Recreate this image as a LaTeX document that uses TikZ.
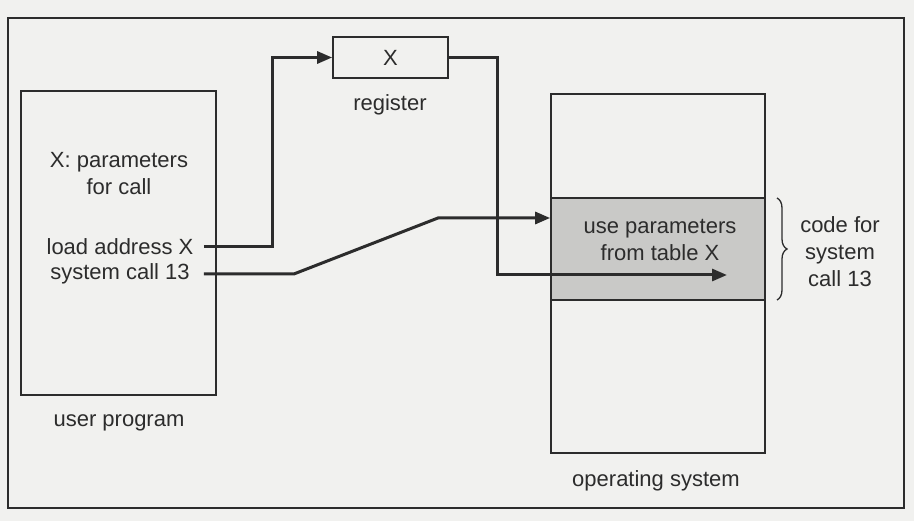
\documentclass[tikz,border=0pt]{standalone}
\usepackage{fontspec}
\setmainfont{Liberation Sans}
\usetikzlibrary{arrows.meta,decorations.pathreplacing}
\definecolor{ink}{HTML}{2C2C2C}
\definecolor{paper}{HTML}{F1F1EF}
\definecolor{shade}{HTML}{C9C9C7}
\tikzset{
  box/.style={draw=ink, line width=1.7pt, inner sep=0pt},
  lbl/.style={text=ink, font=\fontsize{22}{27}\selectfont, align=center, inner sep=0pt},
  link/.style={draw=ink, line width=3pt, -{Triangle[length=15pt,width=12pt]}},
}

\begin{document}
\begin{tikzpicture}[x=1pt, y=-1pt]
    \useasboundingbox[fill=paper] (0,0) rectangle (914,521);
    \draw[ink, line width=1.5pt] (8,18) rectangle (904,508);
    % user program
    \node[box, minimum width=195pt, minimum height=304pt] (prog) at (118.5,243) {};
    \node[lbl] (params) at (119,174) {X: parameters\\for call};
    \node[lbl] (load) at (120,247) {load address X};
    \node[lbl] (call) at (120,274) {system call 13};
    \node[lbl] (progname) at (119,423) {user program};
    % register
    \node[box, lbl, minimum width=115pt, minimum height=41pt] (reg) at (390.5,57.5) {X};
    \node[lbl] (regname) at (390,105) {register};
    % operating system
    \node[box, minimum width=214pt, minimum height=359pt] (os) at (658,273.5) {};
    \node[box, fill=shade, minimum width=214pt, minimum height=102pt] (code) at (658,249) {};
    \node[lbl] (codetext) at (660,239.5) {use parameters\\from table X};
    \node[lbl] (osname) at (656,481) {operating system};
    \draw[ink, line width=1.3pt, decorate, decoration={brace, amplitude=10pt}]
        (777,198) -- (777,300);
    \node[lbl] (braceinfo) at (840,252) {code for\\system\\call 13};
    % connectors
    \coordinate (kink) at (438,218);
    \coordinate (hit) at (727,275);
    \draw[link] ([xshift=-13pt]load.east -| prog.east) -| ([xshift=-60pt]reg.west) -- (reg.west);
    \draw[link] (reg.east) -- ++(49,0) |- (hit);
    \draw[link] ([xshift=-13pt]call.east -| prog.east) -- ++(90,0) -- (kink) -- (kink -| os.west);
\end{tikzpicture}
\end{document}
